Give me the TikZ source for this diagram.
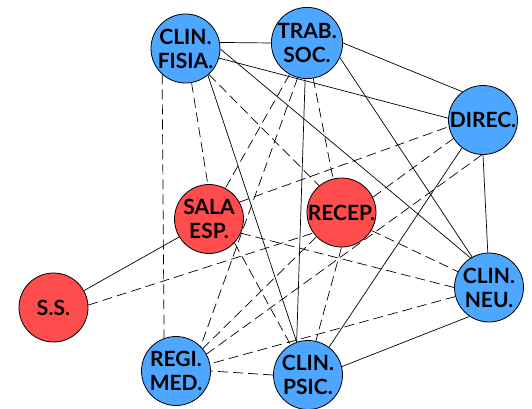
\documentclass[tikz,border=0pt]{standalone}
\usepackage{fontspec}
\setmainfont{Lato}
\definecolor{nblue}{RGB}{77,166,255}
\definecolor{nred}{RGB}{255,77,77}
\begin{document}
\begin{tikzpicture}[x=1pt,y=-1pt,
  place/.style={circle,draw=black,line width=0.8pt,minimum size=69pt,inner sep=0pt,align=center,
    font=\fontsize{21}{24}\selectfont\bfseries},
  bluenode/.style={place,fill=nblue},
  rednode/.style={place,fill=nred},
  solidedge/.style={line width=0.7pt},
  dashedge/.style={line width=0.7pt,dash pattern=on 10pt off 5pt}]
\useasboundingbox (0,0) rectangle (532,409);
\node[bluenode] (F) at (185.5,48.5) {CLIN.\\FISIA.};
\node[bluenode] (T) at (307,43) {TRAB.\\SOC.};
\node[bluenode] (D) at (483,120) {DIREC.};
\node[rednode] (S) at (209,219) {SALA\\ESP.};
\node[rednode] (R) at (341.5,212.5) {RECEP.};
\node[rednode] (SS) at (53.5,307.5) {S.S.};
\node[bluenode] (M) at (176,371) {REGI.\\MED.};
\node[bluenode] (P) at (308,375) {CLIN.\\PSIC.};
\node[bluenode] (N) at (489,287.5) {CLIN.\\NEU.};
% solid edges
\draw[solidedge] (F.10) -- (T.180);
\draw[solidedge] (F.-16) -- (D.177);
\draw[solidedge] (F.-1) -- (N.122);
\draw[solidedge] (F.-50) -- (P.109);
\draw[solidedge] (T.0) -- (D.126);
\draw[solidedge] (T.-24) -- (N.119);
\draw[solidedge] (T.267) -- (P.109);
\draw[solidedge] (D.233) -- (P.53);
\draw[solidedge] (D.270) -- (N.92);
\draw[solidedge] (N.236) -- (P.14);
\draw[solidedge] (SS.29) -- (S.211);
% dashed edges
\draw[dashedge] (F.228) -- (M.110);
\draw[dashedge] (F.280) -- (S.92);
\draw[dashedge] (F.-48) -- (R.130);
\draw[dashedge] (T.241) -- (S.62);
\draw[dashedge] (T.255) -- (M.45);
\draw[dashedge] (T.280) -- (R.104);
\draw[dashedge] (S.29) -- (D.191);
\draw[dashedge] (S.-24) -- (N.180);
\draw[dashedge] (S.-43) -- (P.120);
\draw[dashedge] (SS.4) -- (R.216);
\draw[dashedge] (R.224) -- (M.40);
\draw[dashedge] (R.270) -- (P.77);
\draw[dashedge] (R.-31) -- (N.153);
\draw[dashedge] (R.26) -- (D.212);
\draw[dashedge] (D.268) -- (M.29);
\draw[dashedge] (N.195) -- (M.12);
\draw[dashedge] (P.180) -- (M.0);
\end{tikzpicture}
\end{document}
